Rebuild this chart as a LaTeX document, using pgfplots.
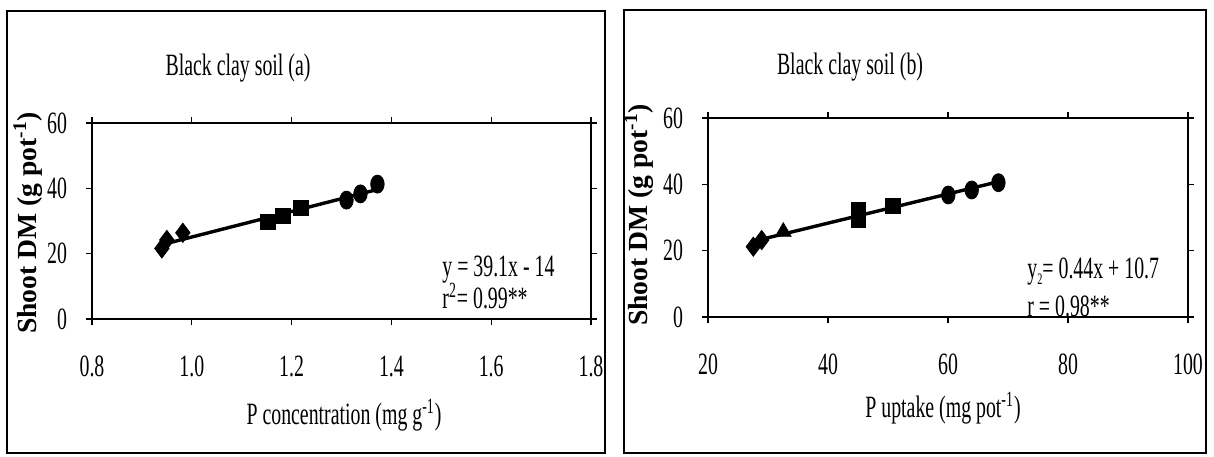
\documentclass[border=0pt]{standalone}
\usepackage{pgfplots}
\pgfplotsset{compat=1.18}
\usepackage{fontspec}
\setmainfont{Liberation Serif}[FakeStretch=0.64]
\newfontfamily\ylabfont{Liberation Serif}
\newcommand{\mainsize}{\fontsize{15.5}{18}\selectfont}
\pgfplotsset{
  panel/.style={
    anchor=south west, scale only axis,
    ymin=0, ymax=60, ytick={0,20,40,60}, yticklabels={0,20,40,60},
    tick align=outside, major tick length=3pt,
    axis line style={line width=0.6pt},
    x tick style={line width=0.6pt, black},
    y tick style={line width=0.6pt, black},
    tick label style={font=\mainsize},
    xticklabel style={anchor=north, yshift=-12pt},
    yticklabel style={anchor=east, xshift=-6pt},
    clip=false,
  },
  dia/.style={only marks, mark=diamond*, mark size=4.8pt, black, mark options={fill=black}},
  sq/.style={only marks, mark=square*, mark size=3.7pt, black, mark options={fill=black}},
  tri/.style={only marks, mark=triangle*, mark size=4.5pt, black, mark options={fill=black}},
  cir/.style={only marks, mark=*, mark size=4.5pt, black, mark options={fill=black, xscale=0.75}},
}
\begin{document}
\begin{tikzpicture}
\useasboundingbox (0,0) rectangle (607pt,-228pt);
\draw[line width=0.6pt] (3.5pt,-5.5pt) rectangle (302.5pt,-226.5pt);
\draw[line width=0.6pt] (312pt,-5pt) rectangle (603pt,-226.5pt);

\begin{axis}[panel,
  at={(46pt,-159.5pt)}, width=249.5pt, height=98pt,
  xmin=0.8, xmax=1.8,
  xtick={0.8,1.0,1.2,1.4,1.6,1.8}, xticklabels={0.8,1.0,1.2,1.4,1.6,1.8},
]
\addplot[no marks, line width=1.7pt] coordinates {(0.94,22.75) (1.372,39.65)};
\addplot[dia] coordinates {(0.94,21.6) (0.95,24.2) (0.982,26.4)};
\addplot[sq] coordinates {(1.153,29.8) (1.183,31.5) (1.218,33.9)};
\addplot[cir] coordinates {(1.31,36.4) (1.338,38.3) (1.372,41.3)};
\end{axis}

\begin{axis}[panel,
  at={(354pt,-158.5pt)}, width=240pt, height=99.5pt,
  xmin=20, xmax=100,
  xtick={20,40,60,80,100}, xticklabels={20,40,60,80,100},
]
\addplot[no marks, line width=1.7pt] coordinates {(27.5,22.8) (68.4,40.8)};
\addplot[dia] coordinates {(27.55,21.2) (28.95,23.2)};
\addplot[tri] coordinates {(32.55,25.7)};
\addplot[sq] coordinates {(45.05,29.2) (45.05,32.3) (50.8,33.5)};
\addplot[cir] coordinates {(60.05,36.8) (63.95,38.3) (68.4,40.5)};
\end{axis}

% titles
\node[font=\mainsize] at (119pt,-34pt) {Black clay soil (a)};
\node[font=\mainsize] at (425pt,-33.5pt) {Black clay soil (b)};
% x labels
\node[font=\mainsize] at (172pt,-207.5pt) {P concentration (mg g\textsuperscript{-1})};
\node[font=\mainsize] at (471.5pt,-204pt) {P uptake (mg pot\textsuperscript{-1})};
% y labels
\node[font=\ylabfont\bfseries\fontsize{13.8}{15}\selectfont, rotate=90] at (14pt,-111.5pt) {Shoot DM (g pot\textsuperscript{-1})};
\node[font=\ylabfont\bfseries\fontsize{13.8}{15}\selectfont, rotate=90] at (319.5pt,-107.5pt) {Shoot DM (g pot\textsuperscript{-1})};
% equations
\node[font=\mainsize, anchor=west, align=left, inner sep=0pt] at (221pt,-141pt)
  {y = 39.1x - 14\\[-2pt] r\textsuperscript{2}= 0.99**};
\node[font=\mainsize, anchor=west, align=left, inner sep=0pt] at (513.5pt,-143.5pt)
  {y\raisebox{-0.45ex}{\fontsize{8}{9}\selectfont 2}= 0.44x + 10.7\\[1pt] r = 0.98**};
\end{tikzpicture}
\end{document}
